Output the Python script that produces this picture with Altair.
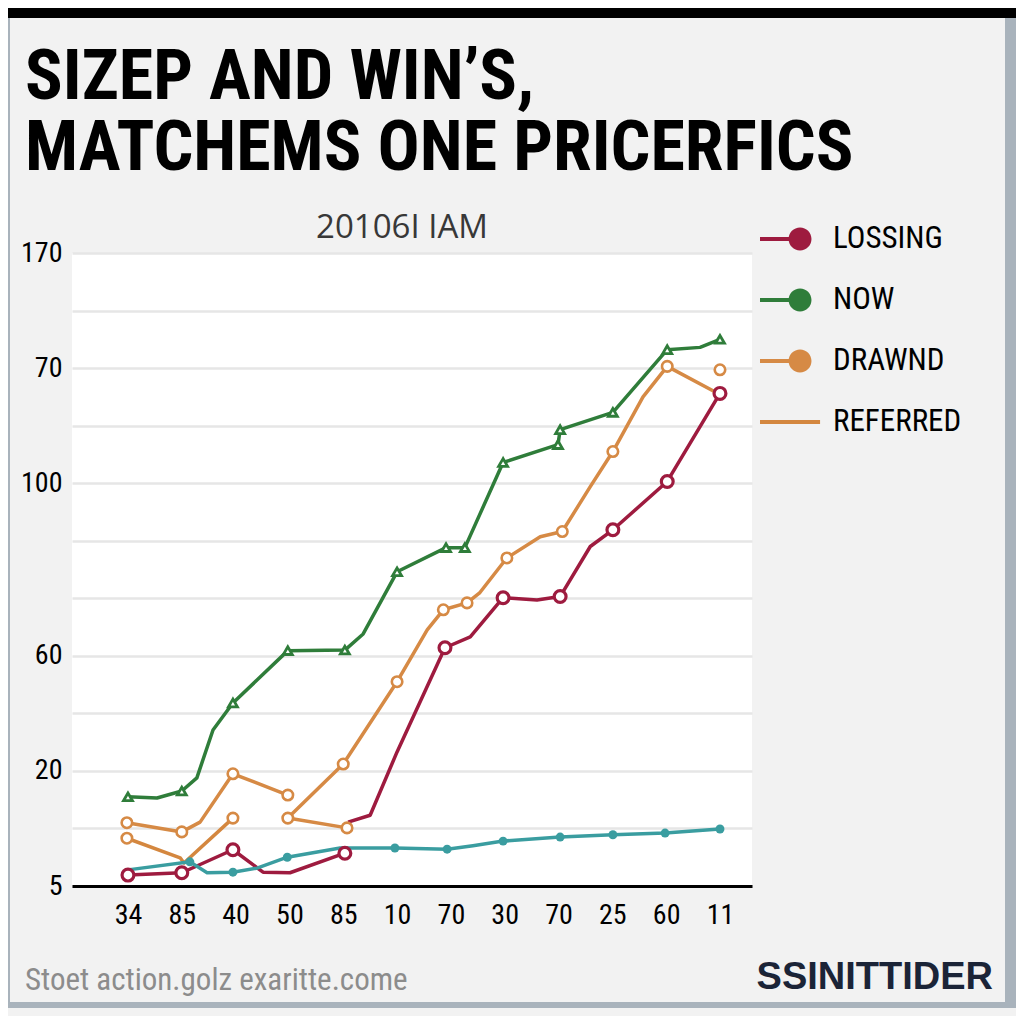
import altair as alt
import pandas as pd

# ---------------- data ----------------
X_LABELS = ["34", "85", "40", "50", "85", "10", "70", "30", "70", "25", "60", "11"]
Y_LABEL_AT = [0, 2, 4, 7, 9, 11]
Y_LABEL_TEXT = ["5", "20", "60", "100", "70", "170"]

SERIES = ["LOSSING", "NOW", "DRAWND", "REFERRED"]
COLORS = ["#9E1B3F", "#2F7D3A", "#D68A45", "#D4873F"]
TEAL = "#3A9DA0"

# x = position along the category axis, y = value (grid units), m = marker drawn
loss_a_x = [0.00, 1.00, 1.95, 2.51, 3.01, 4.03]
loss_a_y = [0.19, 0.23, 0.63, 0.24, 0.23, 0.57]
loss_a_m = [1, 1, 1, 0, 0, 1]

loss_b_x = [4.09, 4.50, 5.00, 5.89, 6.36, 6.97, 7.60, 8.03, 8.59, 9.01, 10.02, 11.00]
loss_b_y = [1.11, 1.23, 2.33, 4.14, 4.33, 5.01, 4.97, 5.03, 5.90, 6.19, 7.03, 8.56]
loss_b_m = [0, 0, 0, 1, 0, 1, 0, 1, 0, 1, 1, 1]

now_x = [0.00, 0.54, 1.00, 1.28, 1.58, 1.95, 2.97, 4.03, 4.37, 5.00, 5.91, 6.26,
         6.97, 7.99, 8.03, 9.01, 10.02, 10.63, 11.00]
now_y = [1.55, 1.53, 1.65, 1.88, 2.71, 3.18, 4.09, 4.10, 4.38, 5.46, 5.88, 5.88,
         7.36, 7.67, 7.93, 8.23, 9.32, 9.36, 9.50]
now_m = [1, 0, 1, 0, 0, 1, 1, 1, 0, 1, 1, 1, 1, 1, 1, 1, 1, 0, 1]

drawn_a_x = [-0.02, 1.00, 1.34, 1.95, 2.97]
drawn_a_y = [1.10, 0.94, 1.11, 1.95, 1.58]
drawn_a_m = [1, 1, 0, 1, 1]

drawn_c_x = [4.07, 2.97, 4.00, 5.00, 5.56, 5.86, 6.30, 6.54, 7.04, 7.66, 8.07, 8.59,
             9.01, 9.57, 10.02, 11.00]
drawn_c_y = [1.01, 1.18, 2.12, 3.55, 4.45, 4.80, 4.92, 5.10, 5.70, 6.07, 6.16, 6.94,
             7.55, 8.50, 9.03, 8.54]
drawn_c_m = [1, 1, 1, 1, 0, 1, 1, 0, 1, 0, 1, 0, 1, 0, 1, 0]

drawn_d_x = [11.00]
drawn_d_y = [8.97]
drawn_d_m = [1]

ref_x = [-0.02, 0.97, 1.04, 1.95]
ref_y = [0.83, 0.49, 0.40, 1.18]
ref_m = [1, 0, 0, 1]

base_x = [0.00, 1.15, 1.47, 1.95, 2.40, 2.96, 3.94, 4.96, 5.93, 6.41, 6.97, 8.03,
          9.01, 9.98, 11.00]
base_y = [0.28, 0.42, 0.23, 0.24, 0.31, 0.50, 0.66, 0.66, 0.64, 0.70, 0.78, 0.85,
          0.89, 0.92, 0.99]
base_m = [0, 1, 0, 1, 0, 1, 0, 1, 1, 0, 1, 1, 1, 1, 1]

segments = [
    ("LOSSING", "loss_a", loss_a_x, loss_a_y, loss_a_m),
    ("LOSSING", "loss_b", loss_b_x, loss_b_y, loss_b_m),
    ("NOW", "now", now_x, now_y, now_m),
    ("DRAWND", "drawn_a", drawn_a_x, drawn_a_y, drawn_a_m),
    ("DRAWND", "drawn_c", drawn_c_x, drawn_c_y, drawn_c_m),
    ("DRAWND", "drawn_d", drawn_d_x, drawn_d_y, drawn_d_m),
    ("REFERRED", "ref", ref_x, ref_y, ref_m),
    ("BASE", "base", base_x, base_y, base_m),
]

rows = []
for s, seg, xs, ys, ms in segments:
    for i, (xv, yv, mv) in enumerate(zip(xs, ys, ms)):
        rows.append({"series": s, "seg": seg, "order": i, "x": xv, "y": yv, "m": mv})
df = pd.DataFrame(rows)

# ---------------- style ----------------
NARROW = "Liberation Sans Narrow, Roboto Condensed, DejaVu Sans Condensed, sans-serif"

x_expr = "[" + ",".join("'%s'" % t for t in X_LABELS) + "][datum.value]"
y_expr = ""
for v, t in zip(Y_LABEL_AT, Y_LABEL_TEXT):
    y_expr += "datum.value==%d?'%s':" % (v, t)
y_expr += "''"

X = alt.X("x:Q",
          scale=alt.Scale(domain=[-1.04, 11.595], nice=False, zero=False),
          axis=alt.Axis(values=list(range(12)), labelExpr=x_expr, title=None,
                        grid=False, ticks=False, domainColor="black", domainWidth=3,
                        labelFont=NARROW, labelFontSize=28, labelColor="black",
                        labelPadding=15))
Y = alt.Y("y:Q",
          scale=alt.Scale(domain=[0, 11], nice=False, zero=False),
          axis=alt.Axis(values=list(range(12)), labelExpr=y_expr, title=None,
                        grid=True, gridColor="#E6E6E6", gridWidth=2.5,
                        domain=False, ticks=False, labelFont=NARROW,
                        labelFontSize=28, labelColor="black", labelPadding=10))

color_scale = alt.Scale(domain=SERIES, range=COLORS)

sym_dot = "M-1,-0.077L0.3,-0.077L0.3,0.077L-1,0.077Z M0.1,0A0.44,0.44 0 1 1 0.98,0A0.44,0.44 0 1 1 0.1,0Z"
sym_line = "M-1,-0.08L1.31,-0.08L1.31,0.08L-1,0.08Z"
shape_scale = alt.Scale(domain=SERIES, range=[sym_dot, sym_dot, sym_dot, sym_line])
leg = alt.Legend(title=None, orient="none", legendX=688, legendY=-40,
                 symbolSize=2704, symbolStrokeWidth=0, labelFont=NARROW,
                 labelFontSize=31, labelColor="black", labelOffset=21,
                 rowPadding=20, labelLimit=300)

main = df[df["series"] != "BASE"]
base = alt.Chart(df)

lines = alt.Chart(main).mark_line(strokeWidth=3.5, strokeJoin="round").encode(
    x=X, y=Y, color=alt.Color("series:N", scale=color_scale, legend=None),
    detail="seg:N", order="order:Q")

teal_line = base.transform_filter("datum.series=='BASE'").mark_line(
    strokeWidth=3.5, color=TEAL).encode(x=X, y=Y, detail="seg:N", order="order:Q")
teal_pts = base.transform_filter("datum.series=='BASE' && datum.m==1").mark_circle(
    size=80, color=TEAL, opacity=1).encode(x=X, y=Y)

red_pts = base.transform_filter("datum.series=='LOSSING' && datum.m==1").mark_point(
    shape="circle", size=140, strokeWidth=3.2, fill="white", filled=False, opacity=1,
    color=COLORS[0]).encode(x=X, y=Y)
orange_pts = base.transform_filter(
    "(datum.series=='DRAWND' || datum.series=='REFERRED') && datum.m==1").mark_point(
    shape="circle", size=110, strokeWidth=2.6, fill="white", opacity=1,
    color=COLORS[2]).encode(x=X, y=Y)
green_pts = base.transform_filter("datum.series=='NOW' && datum.m==1").mark_point(
    shape="triangle-up", size=80, strokeWidth=2.8, fill="white", opacity=1,
    color=COLORS[1]).encode(x=X, y=Y)

legend_layer = alt.Chart(main).transform_filter("false").mark_point(
    filled=True, opacity=1).encode(
    x=X, y=Y,
    color=alt.Color("series:N", scale=color_scale, legend=leg),
    shape=alt.Shape("series:N", scale=shape_scale, legend=leg))

one = alt.Data(values=[{"k": 1}])
top_bar = alt.Chart(one).mark_rect(color="black").encode(
    x=alt.value(-64), x2=alt.value(944), y=alt.value(-245), y2=alt.value(-235))
right_strip = alt.Chart(one).mark_rect(color="#A9B3BC").encode(
    x=alt.value(933), x2=alt.value(944), y=alt.value(-235), y2=alt.value(755))
bottom_strip = alt.Chart(one).mark_rect(color="#A9B3BC").encode(
    x=alt.value(-64), x2=alt.value(944), y=alt.value(749), y2=alt.value(755))
left_strip = alt.Chart(one).mark_rect(color="#A9B3BC").encode(
    x=alt.value(-64), x2=alt.value(-62), y=alt.value(-235), y2=alt.value(755))

subtitle = alt.Chart(one).mark_text(
    text="20106I IAM", font="Open Sans", fontSize=33, fontWeight=500, color="#383838",
    align="center", baseline="middle").encode(x=alt.value(330), y=alt.value(-25))
footer = alt.Chart(one).mark_text(
    text="Stoet action.golz exaritte.come", font=NARROW, fontSize=31,
    color="#8C8C8C", align="left", baseline="middle").encode(
    x=alt.value(-47), y=alt.value(728))
brand = alt.Chart(one).mark_text(
    text="SSINITTIDER", font="Liberation Sans", fontWeight="bold", fontSize=38,
    color="#1B2437", align="right", baseline="middle").encode(
    x=alt.value(921), y=alt.value(725))

chart = alt.layer(
    top_bar, right_strip, bottom_strip, left_strip,
    lines, teal_line, teal_pts, red_pts, orange_pts, green_pts, legend_layer,
    subtitle, footer, brand,
).resolve_legend(color="independent", shape="independent").properties(
    width=680, height=633,
    padding={"left": 64, "top": 245, "right": 264, "bottom": 130},
    autosize=alt.AutoSizeParams(type="none"),
    background="#F2F2F2",
    title=alt.TitleParams(
        text=["SIZEP AND WIN\u2019S,", "MATCHEMS ONE PRICERFICS"],
        anchor="start", frame="group", font=NARROW, fontWeight="bold",
        fontSize=70, color="black", lineHeight=71, offset=0, dx=-47, dy=232,
        baseline="alphabetic"),
).configure_view(fill="white", strokeWidth=0)

chart.save("out.html", embed_options={"renderer": "svg", "actions": False})
